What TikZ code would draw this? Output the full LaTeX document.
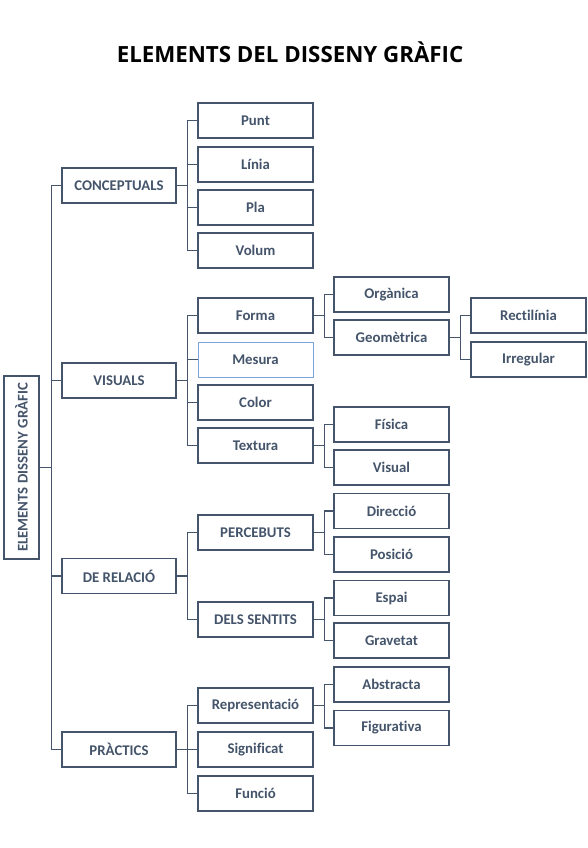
\documentclass[tikz,border=0pt]{standalone}
\usepackage{fontspec}
\setmainfont{Carlito}[Ligatures={NoCommon}]
\newfontfamily\titlefont{Open Sans}
\definecolor{slate}{HTML}{44546A}
\definecolor{selblue}{HTML}{7FA3E0}
\begin{document}
\begin{tikzpicture}[x=1pt,y=-1pt,
  box/.style={draw=slate,line width=1.3pt,text=slate,font=\bfseries\fontsize{14.8}{16}\selectfont,minimum height=35pt,inner sep=0pt},
  lone/.style={box,minimum width=114pt},
  ltwo/.style={box,minimum width=115pt},
  conn/.style={draw=slate,line width=1.3pt}
]
\useasboundingbox (0,0) rectangle (587,848);
\node[font=\titlefont\bfseries\fontsize{22.3}{25}\selectfont] (title) at (290,52) {ELEMENTS DEL DISSENY GRÀFIC};
% root
\node[box,minimum width=183pt,minimum height=35pt,rotate=90] (root) at (21.5,467.5) {ELEMENTS DISSENY GRÀFIC};
% level 1
\node[lone] (conc) at (119,185.5) {CONCEPTUALS};
\node[lone] (vis) at (119,380.5) {VISUALS};
\node[lone] (rel) at (119,576) {DE RELACIÓ};
\node[lone] (prac) at (119,749.5) {PRÀCTICS};
% level 2
\node[ltwo] (punt) at (255.5,120.5) {Punt};
\node[ltwo] (linia) at (255.5,164.5) {Línia};
\node[ltwo] (pla) at (255.5,207.5) {Pla};
\node[ltwo] (volum) at (255.5,250.5) {Volum};
\node[ltwo] (forma) at (255.5,315.5) {Forma};
\node[ltwo,draw=selblue,line width=1pt] (mesura) at (255.5,359.5) {Mesura};
\node[ltwo] (color) at (255.5,402.5) {Color};
\node[ltwo] (textura) at (255.5,445.5) {Textura};
\node[ltwo] (perc) at (255.5,532.5) {PERCEBUTS};
\node[ltwo] (sent) at (255.5,619.5) {DELS SENTITS};
\node[ltwo] (repr) at (255.5,705.5) {Representació};
\node[ltwo] (signif) at (255.5,749.5) {Significat};
\node[ltwo] (funcio) at (255.5,793.5) {Funció};
% level 3
\node[ltwo] (organ) at (391.5,294.5) {Orgànica};
\node[ltwo] (geom) at (391.5,337.5) {Geomètrica};
\node[ltwo] (fisica) at (391.5,424.5) {Física};
\node[ltwo] (visual) at (391.5,467.5) {Visual};
\node[ltwo] (direc) at (391.5,511) {Direcció};
\node[ltwo] (posic) at (391.5,554.5) {Posició};
\node[ltwo] (espai) at (391.5,598) {Espai};
\node[ltwo] (grav) at (391.5,640.5) {Gravetat};
\node[ltwo] (abstr) at (391.5,684.5) {Abstracta};
\node[ltwo] (figur) at (391.5,728) {Figurativa};
% level 4
\node[ltwo] (rect) at (528.5,315.5) {Rectilínia};
\node[ltwo] (irreg) at (528.5,359.5) {Irregular};
% connectors
\foreach \c in {conc,vis,rel,prac} \draw[conn] (root.south) -- ++(11.5,0) |- (\c.west);
\foreach \c in {punt,linia,pla,volum} \draw[conn] (conc.east) -- ++(11,0) |- (\c.west);
\foreach \c in {forma,mesura,color,textura} \draw[conn] (vis.east) -- ++(11,0) |- (\c.west);
\foreach \c in {perc,sent} \draw[conn] (rel.east) -- ++(11,0) |- (\c.west);
\foreach \c in {repr,signif,funcio} \draw[conn] (prac.east) -- ++(11,0) |- (\c.west);
\foreach \c in {organ,geom} \draw[conn] (forma.east) -- ++(10.5,0) |- (\c.west);
\foreach \c in {fisica,visual} \draw[conn] (textura.east) -- ++(10.5,0) |- (\c.west);
\foreach \c in {direc,posic} \draw[conn] (perc.east) -- ++(10.5,0) |- (\c.west);
\foreach \c in {espai,grav} \draw[conn] (sent.east) -- ++(10.5,0) |- (\c.west);
\foreach \c in {abstr,figur} \draw[conn] (repr.east) -- ++(10.5,0) |- (\c.west);
\foreach \c in {rect,irreg} \draw[conn] (geom.east) -- ++(11,0) |- (\c.west);
\end{tikzpicture}
\end{document}
